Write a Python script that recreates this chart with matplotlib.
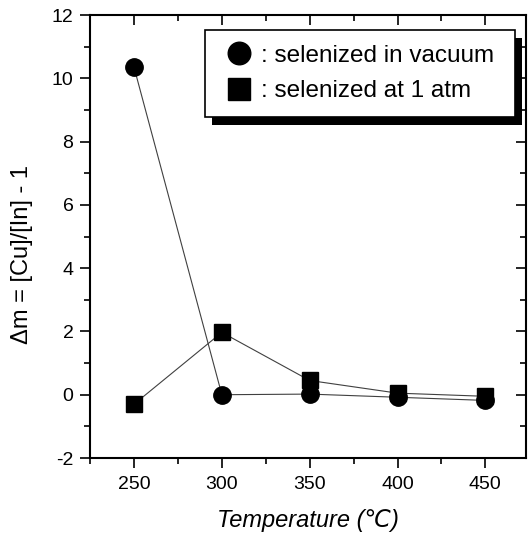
import numpy as np
import matplotlib
matplotlib.use("Agg")
import matplotlib.pyplot as plt
from matplotlib.patches import Rectangle
from matplotlib.ticker import MultipleLocator

plt.rcParams['font.family'] = ['Liberation Sans', 'DejaVu Sans']
plt.rcParams['axes.unicode_minus'] = False

# 온도 (°C)
temp = [250, 300, 350, 400, 450]
# selenized in vacuum
dm_vacuum = [10.35, 0.0, 0.02, -0.08, -0.18]
# selenized at 1 atm
dm_atm = [-0.3, 1.97, 0.45, 0.05, -0.05]

fig = plt.figure(figsize=(5.30, 5.36), dpi=100)
ax = fig.add_axes([0.170, 0.1455, 0.822, 0.8265])

ax.plot(temp, dm_vacuum, '-', color='0.25', lw=0.8, zorder=2)
ax.plot(temp, dm_atm, '-', color='0.25', lw=0.8, zorder=2)
h1, = ax.plot(temp, dm_vacuum, 'o', color='k', ms=12.5, ls='none', zorder=3)
h2, = ax.plot(temp, dm_atm, 's', color='k', ms=12, ls='none', zorder=3)

ax.set_xlim(225, 473)
ax.set_ylim(-2, 12)
ax.xaxis.set_major_locator(MultipleLocator(50))
ax.xaxis.set_minor_locator(MultipleLocator(25))
ax.yaxis.set_major_locator(MultipleLocator(2))
ax.yaxis.set_minor_locator(MultipleLocator(1))
ax.tick_params(which='both', direction='out', width=1.2, labelsize=14)
ax.tick_params(which='major', length=7)
ax.tick_params(which='minor', length=4)
ax.tick_params(axis='x', which='major', pad=6)
ax.tick_params(axis='y', which='major', pad=5)
ax.tick_params(axis='x', which='both', top=True, labeltop=False)
ax.tick_params(axis='y', which='both', right=True, labelright=False)
for sp in ax.spines.values():
    sp.set_linewidth(1.5)

# 위/오른쪽 눈금은 안쪽으로
for t in ax.xaxis.get_major_ticks() + ax.xaxis.get_minor_ticks():
    t.tick2line.set_marker(3)
for t in ax.yaxis.get_major_ticks() + ax.yaxis.get_minor_ticks():
    t.tick2line.set_marker(0)

ax.set_xlabel('Temperature (\u2103)', fontsize=17, style='italic')
ax.xaxis.set_label_coords(0.5, -0.114)
ax.set_ylabel('\u0394m = [Cu]/[In] - 1', fontsize=17)
ax.yaxis.set_label_coords(-0.132, 0.46)

leg = ax.legend([h1, h2], [': selenized in vacuum', ': selenized at 1 atm'],
                loc='upper left', bbox_to_anchor=(0.264, 0.966, 0.711, 0.0),
                mode='expand', fontsize=17.5, markerscale=1.3, handlelength=1.6,
                handletextpad=0.1, borderpad=0.6, labelspacing=0.55,
                fancybox=False, edgecolor='k', framealpha=1, borderaxespad=0)
leg.get_frame().set_linewidth(1.2)
leg.set_zorder(10)

# 검은 그림자
fig.canvas.draw()
bb = leg.get_window_extent()
sh = Rectangle((bb.x0 + 7, bb.y0 - 8), bb.width, bb.height,
               transform=None, facecolor='k', edgecolor='none',
               clip_on=False, zorder=9)
ax.add_artist(sh)

fig.savefig('out.png', dpi=100)
